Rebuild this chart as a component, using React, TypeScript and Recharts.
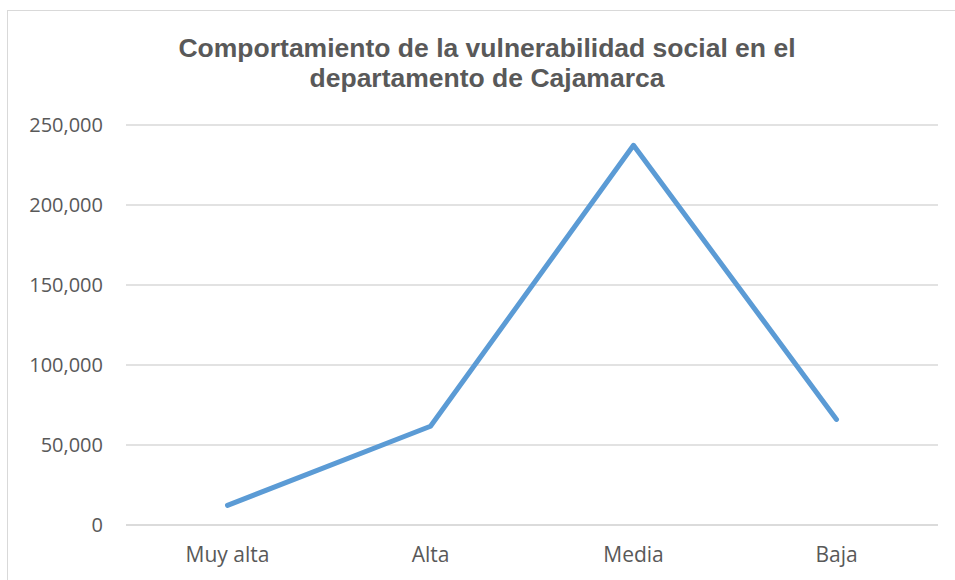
import { LineChart, Line, XAxis, YAxis, CartesianGrid } from "recharts";

const categories = ["Muy alta", "Alta", "Media", "Baja"];
const poblacion = [12300, 61700, 237300, 66000];
const yTicks = [0, 50000, 100000, 150000, 200000, 250000];

const chartData = categories.map((nivel, i) => ({ nivel, poblacion: poblacion[i] }));

const labelFont = { fill: "#595959", fontSize: 21, fontFamily: "'Open Sans', sans-serif" };

export default function App() {
  return (
    <div style={{ position: "absolute", left: 0, top: 0, width: 955, height: 580, overflow: "hidden", background: "#fff" }}>
      <div
        style={{
          position: "absolute",
          left: 6.5,
          top: 9.5,
          width: 1000,
          height: 1000,
          border: "1.5px solid #d9d9d9",
        }}
      />
      <div
        style={{
          position: "absolute",
          left: 0,
          top: 33,
          width: 974,
          textAlign: "center",
          fontFamily: "'Liberation Sans', Arial, sans-serif",
          fontWeight: "bold",
          fontSize: 26.5,
          lineHeight: "30px",
          color: "#595959",
        }}
      >
        Comportamiento de la vulnerabilidad social en el
        <br />
        departamento de Cajamarca
      </div>
      <div style={{ position: "absolute", left: 0, top: 0 }}>
        <LineChart width={955} height={580} data={chartData} margin={{ top: 125, right: 17, bottom: 0, left: 0 }}>
          <CartesianGrid vertical={false} stroke="#d9d9d9" strokeWidth={1.3} />
          <XAxis
            dataKey="nivel"
            height={55}
            padding={{ left: 101.5, right: 101.5 }}
            tickLine={false}
            tickSize={0}
            tickMargin={22}
            axisLine={{ stroke: "#d9d9d9", strokeWidth: 1.3 }}
            tick={labelFont}
          />
          <YAxis
            width={126}
            domain={[0, 250000]}
            ticks={yTicks}
            tickFormatter={(v) => v.toLocaleString("en-US")}
            tickLine={false}
            axisLine={false}
            tickSize={0}
            tickMargin={23}
            tick={{ ...labelFont, fontSize: 20 }}
          />
          <Line
            type="linear"
            dataKey="poblacion"
            stroke="#5b9bd5"
            strokeWidth={5}
            strokeLinecap="round"
            strokeLinejoin="round"
            dot={false}
            isAnimationActive={false}
          />
        </LineChart>
      </div>
    </div>
  );
}
